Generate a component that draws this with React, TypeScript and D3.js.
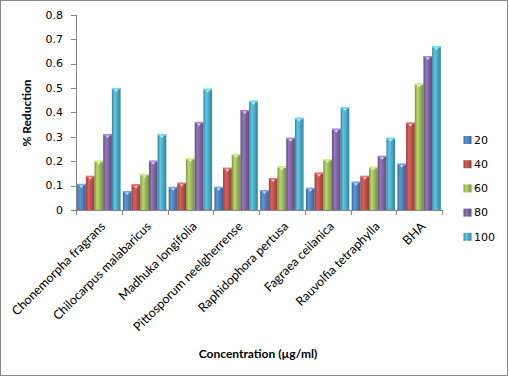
import React from "react";
import * as d3 from "d3";

const categories = [
  "Chonemorpha fragrans",
  "Chilocarpus malabaricus",
  "Madhuka longifolia",
  "Pittosporum neelgherrense",
  "Raphidophora pertusa",
  "Fagraea ceilanica",
  "Rauvolfia tetraphylla",
  "BHA",
];
const seriesNames = ["20", "40", "60", "80", "100"];
const s20 = [0.107, 0.078, 0.095, 0.095, 0.082, 0.091, 0.116, 0.19];
const s40 = [0.14, 0.105, 0.112, 0.173, 0.131, 0.153, 0.14, 0.358];
const s60 = [0.202, 0.148, 0.213, 0.23, 0.178, 0.209, 0.177, 0.518];
const s80 = [0.311, 0.202, 0.361, 0.41, 0.296, 0.333, 0.222, 0.631];
const s100 = [0.5, 0.311, 0.497, 0.448, 0.378, 0.422, 0.296, 0.672];
const yTicks = [0, 0.1, 0.2, 0.3, 0.4, 0.5, 0.6, 0.7, 0.8];
const colors = ["#4F81BD", "#C0504D", "#9BBB59", "#8064A2", "#4BACC6"];

const series = [s20, s40, s60, s80, s100];

export default function App() {
  const W = 509, H = 377;
  const left = 76, right = 442, top = 14.8, bottom = 210;
  const x = d3.scaleBand<string>().domain(categories).range([left, right]).paddingInner(0).paddingOuter(0);
  const inner = d3.scaleBand<string>().domain(seriesNames).range([0, x.bandwidth()]).paddingOuter(0.135).paddingInner(0);
  const y = d3.scaleLinear().domain([0, 0.8]).range([bottom, top]);
  const fontLab = "Lato, 'Open Sans', sans-serif";
  const fontTick = "'DejaVu Sans', Verdana, sans-serif";
  const axisColor = "#868686";

  return (
    <svg width={W} height={H} style={{ position: "absolute", left: 0, top: 0, background: "#fff" }}>
      <defs>
        {colors.map((c, i) => {
          const base = d3.color(c)!;
          const dark = d3.color(c)!.darker(0.8).formatHex();
          const light = d3.color(c)!.brighter(0.45).formatHex();
          return (
            <linearGradient key={i} id={`g${i}`} x1="0" x2="1" y1="0" y2="0">
              <stop offset="0%" stopColor={dark} />
              <stop offset="30%" stopColor={light} />
              <stop offset="60%" stopColor={base.formatHex()} />
              <stop offset="100%" stopColor={dark} />
            </linearGradient>
          );
        })}
      </defs>
      <rect x={0.5} y={0.5} width={W - 2} height={H - 2} fill="#fff" stroke="#8a8a8a" strokeWidth={1} />

      {/* y axis */}
      <line x1={left + 0.5} x2={left + 0.5} y1={top} y2={bottom} stroke={axisColor} />
      {yTicks.map((t) => (
        <g key={t}>
          <line x1={left - 5} x2={left} y1={Math.round(y(t)) + 0.5} y2={Math.round(y(t)) + 0.5} stroke={axisColor} />
          <text x={63} y={y(t)} dy="0.35em" textAnchor="end" fontFamily={fontTick} fontSize={11} fill="#000">
            {t === 0 ? "0" : t.toFixed(1)}
          </text>
        </g>
      ))}

      {/* bars */}
      {categories.map((c, ci) => (
        <g key={c}>
          {series.map((s, si) => {
            const bx = x(c)! + inner(seriesNames[si])!;
            const bw = inner.bandwidth();
            const by = y(s[ci]);
            const cx = bx + bw / 2;
            return (
              <g key={si}>
                <rect x={bx} y={by} width={bw} height={bottom - by} fill={`url(#g${si})`} />
                <rect x={bx} y={by} width={bw} height={1.5} fill={d3.color(colors[si])!.brighter(0.8).formatHex()} />
                <path d={`M${cx - 2},${by + 1.5}L${cx + 2},${by + 1.5}L${cx},${by + 4}Z`} fill="#e8f0ff" opacity={0.85} />
              </g>
            );
          })}
        </g>
      ))}

      {/* x axis */}
      <line x1={left} x2={right} y1={bottom + 0.5} y2={bottom + 0.5} stroke={axisColor} />
      {[...categories.map((c) => x(c)!), right].map((tx, i) => (
        <line key={i} x1={Math.round(tx) + 0.5} x2={Math.round(tx) + 0.5} y1={bottom} y2={bottom + 5} stroke={axisColor} />
      ))}
      {categories.map((c) => {
        const cx = x(c)! + x.bandwidth() / 2 + 1;
        const cy = bottom + 11;
        return (
          <text key={c} transform={`translate(${cx},${cy}) rotate(-45)`} textAnchor="end" dy="0.7em" fontFamily={fontLab} fontSize={12.5} fill="#000">
            {c}
          </text>
        );
      })}

      {/* axis titles */}
      <text x={258} y={354} dy="0.35em" textAnchor="middle" fontFamily={fontLab} fontWeight="bold" fontSize={12} fill="#000">
        Concentration (µg/ml)
      </text>
      <text transform={`translate(27,113) rotate(-90)`} dy="0.35em" textAnchor="middle" fontFamily={fontLab} fontWeight="bold" fontSize={12} fill="#000">
        % Reduction
      </text>

      {/* legend */}
      {seriesNames.map((n, i) => {
        const ly = 140 + i * 24.2;
        return (
          <g key={n}>
            <rect x={463.5} y={ly - 4} width={8} height={8} fill={`url(#g${i})`} />
            <text x={474} y={ly} dy="0.35em" fontFamily={fontTick} fontSize={11} fill="#000">
              {n}
            </text>
          </g>
        );
      })}
    </svg>
  );
}
